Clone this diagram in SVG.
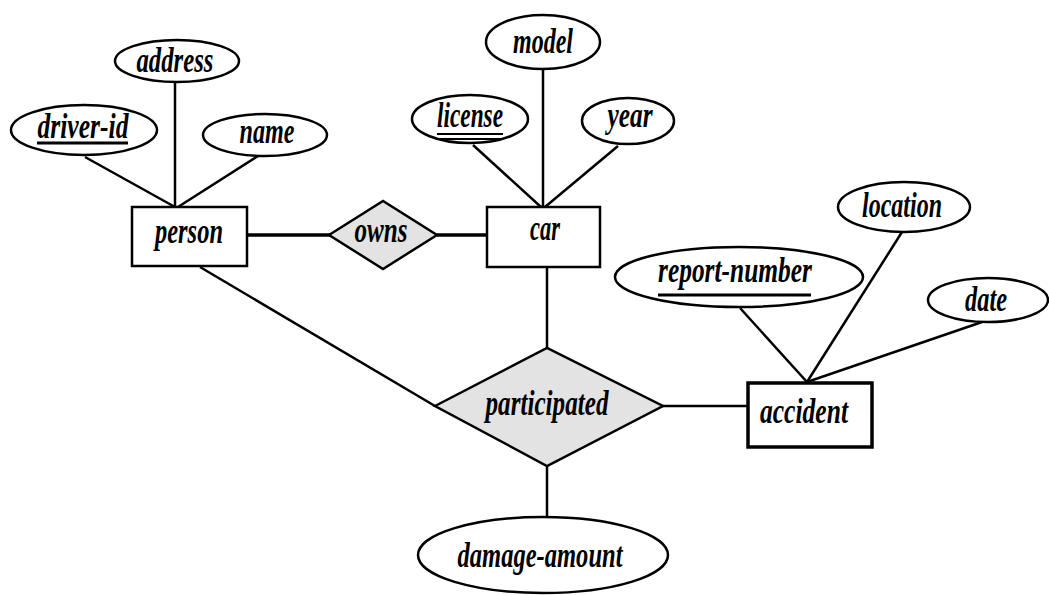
<svg xmlns="http://www.w3.org/2000/svg" width="1049" height="595" viewBox="0 0 1049 595">
<style>
.e{fill:#fff;stroke:#000;stroke-width:2.5}
.r{fill:#fff;stroke:#000;stroke-width:2.5}
.d{fill:#e3e3e3;stroke:#000;stroke-width:2.5}
.c line{stroke:#000;stroke-width:2.5}
text{font-family:"Liberation Serif",serif;font-style:italic;font-weight:bold;font-size:35px;fill:#000;text-anchor:middle}
.u{stroke:#000;stroke-width:3}
</style>
<rect width="1049" height="595" fill="#fff"/>
<g class="c" id="connectors">
<line x1="85" y1="157" x2="175" y2="207"/>
<line x1="175" y1="82" x2="175" y2="207"/>
<line x1="258" y1="156" x2="178" y2="207"/>
<line x1="247" y1="235" x2="330" y2="235" style="stroke-width:3.5"/>
<line x1="437" y1="235" x2="487" y2="235" style="stroke-width:3.5"/>
<line x1="543" y1="69" x2="543" y2="207"/>
<line x1="473" y1="145" x2="541" y2="207"/>
<line x1="618" y1="146" x2="545" y2="207"/>
<line x1="547" y1="267" x2="547" y2="348"/>
<line x1="200" y1="267" x2="435" y2="406"/>
<line x1="663" y1="406" x2="748" y2="406"/>
<line x1="547" y1="466" x2="547" y2="517"/>
<line x1="740" y1="308" x2="807" y2="382"/>
<line x1="902" y1="232" x2="807" y2="382"/>
<line x1="985" y1="321" x2="807" y2="382"/>
</g>
<g id="address"><ellipse class="e" cx="177" cy="61" rx="62" ry="21"/><text x="175" y="72" textLength="77" lengthAdjust="spacingAndGlyphs">address</text></g>
<g id="driver-id"><ellipse class="e" cx="84" cy="130" rx="73" ry="25"/><text x="83" y="138" textLength="91" lengthAdjust="spacingAndGlyphs">driver-id</text><line class="u" x1="37" y1="143" x2="128" y2="143"/></g>
<g id="name"><ellipse class="e" cx="265" cy="135" rx="62" ry="21"/><text x="267" y="143" textLength="55" lengthAdjust="spacingAndGlyphs">name</text></g>
<g id="person"><rect class="r" x="132" y="207" width="115" height="59"/><text x="189" y="243" textLength="68" lengthAdjust="spacingAndGlyphs">person</text></g>
<g id="owns"><polygon class="d" points="329,235 383,201 437,235 383,269"/><text x="381" y="242" textLength="53" lengthAdjust="spacingAndGlyphs">owns</text></g>
<g id="model"><ellipse class="e" cx="543" cy="42" rx="57" ry="27"/><text x="543" y="53" textLength="60" lengthAdjust="spacingAndGlyphs">model</text></g>
<g id="license"><ellipse class="e" cx="470" cy="119" rx="58" ry="24"/><text x="470" y="127" textLength="66" lengthAdjust="spacingAndGlyphs">license</text><line class="u" x1="437" y1="134" x2="503" y2="134" style="stroke-width:2"/><line class="u" x1="437" y1="139" x2="503" y2="139" style="stroke-width:2"/></g>
<g id="year"><ellipse class="e" cx="628" cy="121" rx="46" ry="23"/><text x="630" y="127" textLength="45" lengthAdjust="spacingAndGlyphs">year</text></g>
<g id="car"><rect class="r" x="487" y="207" width="113" height="60"/><text x="545" y="240" textLength="30" lengthAdjust="spacingAndGlyphs">car</text></g>
<g id="location"><ellipse class="e" cx="904" cy="207" rx="66" ry="25"/><text x="902" y="217" textLength="80" lengthAdjust="spacingAndGlyphs">location</text></g>
<g id="report-number"><ellipse class="e" cx="739" cy="277" rx="124" ry="30"/><text x="735" y="282" textLength="154" lengthAdjust="spacingAndGlyphs">report-number</text><line class="u" x1="658" y1="295" x2="811" y2="295"/></g>
<g id="date"><ellipse class="e" cx="988" cy="300" rx="60" ry="22"/><text x="986" y="311" textLength="42" lengthAdjust="spacingAndGlyphs">date</text></g>
<g id="accident"><rect class="r" x="748" y="383" width="124" height="64" style="stroke-width:3.5"/><text x="804" y="423" textLength="88" lengthAdjust="spacingAndGlyphs">accident</text></g>
<g id="participated"><polygon class="d" points="435,406 547,348 663,406 547,466"/><text x="547" y="415" textLength="123" lengthAdjust="spacingAndGlyphs">participated</text></g>
<g id="damage-amount"><ellipse class="e" cx="543" cy="555" rx="125" ry="38"/><text x="540" y="567" textLength="165" lengthAdjust="spacingAndGlyphs">damage-amount</text></g>
</svg>
